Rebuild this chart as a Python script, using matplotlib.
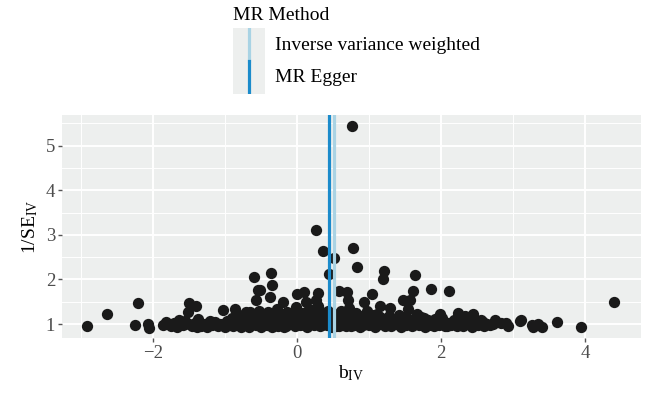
import numpy as np
import matplotlib
matplotlib.use("Agg")
import matplotlib.pyplot as plt
from matplotlib.lines import Line2D

plt.rcParams['font.family'] = ['Liberation Serif', 'DejaVu Serif']
plt.rcParams['mathtext.fontset'] = 'custom'
plt.rcParams['mathtext.rm'] = 'Liberation Serif'
plt.rcParams['mathtext.it'] = 'Liberation Serif:italic'

# estimates
# scattered SNPs away from the dense band
b_sparse = [0.76, 0.27, 0.36, 0.52, 0.78, 0.84, 0.45, 1.21, 1.20, 1.64, 1.86, 2.12, 4.40, 3.95, 3.61,
            -0.59, -0.54, -0.56, -0.36, -0.34, -0.37, -0.51, -0.19, 0.00, 0.10, 0.13, 0.29, 0.27, 0.58,
            0.70, 0.71, 1.04, 1.47, 1.57, 1.62, 0.94, 1.15, 1.29, 1.55, 1.99, 2.24, 1.73, 2.45,
            -2.91, -2.63, -2.21, -2.24, -2.07, -2.05, -1.86, -1.81, -1.63, -1.49, -1.40, -1.51, -1.03,
            -0.86, -0.65, 2.75, 2.91, 3.12, 3.26, 3.35, 3.28, 3.40, 2.77, 2.93, 3.10]
inv_se_sparse = [5.44, 3.11, 2.63, 2.47, 2.70, 2.28, 2.12, 2.18, 2.01, 2.10, 1.78, 1.74, 1.49, 0.93, 1.05,
                 2.05, 1.76, 1.54, 2.15, 1.88, 1.60, 1.77, 1.50, 1.67, 1.72, 1.49, 1.70, 1.54, 1.73,
                 1.71, 1.54, 1.67, 1.53, 1.53, 1.74, 1.50, 1.40, 1.35, 1.34, 1.22, 1.25, 1.15, 1.23,
                 0.95, 1.23, 1.47, 0.97, 1.01, 0.91, 0.97, 1.05, 1.10, 1.47, 1.40, 1.28, 1.31,
                 1.33, 1.28, 1.09, 1.02, 1.09, 0.98, 1.00, 0.94, 0.94, 1.04, 0.96, 1.07]

# dense band around 1/SE ~ 1
b_band = [-1.75, -1.70, -1.66, -1.58, -1.55, -1.45, -1.42, -1.37, -1.33, -1.28, -1.24, -1.18, -1.14, -1.10,
          -1.06, -1.00, -0.97, -0.94, -0.90, -0.88, -0.83, -0.80, -0.78, -0.74, -0.71, -0.68, -0.66, -0.62,
          -0.60, -0.57, -0.54, -0.52, -0.49, -0.47, -0.45, -0.42, -0.40, -0.38, -0.35, -0.33, -0.30, -0.28,
          -0.26, -0.23, -0.21, -0.18, -0.16, -0.13, -0.11, -0.08, -0.06, -0.03, -0.01, 0.02, 0.04, 0.07,
          0.09, 0.12, 0.14, 0.17, 0.19, 0.22, 0.24, 0.27, 0.29, 0.32, 0.34, 0.37, 0.39, 0.42, 0.44, 0.47,
          0.49, 0.52, 0.54, 0.57, 0.59, 0.62, 0.64, 0.67, 0.69, 0.72, 0.74, 0.77, 0.79, 0.82, 0.85, 0.88,
          0.91, 0.94, 0.97, 1.00, 1.03, 1.06, 1.09, 1.12, 1.15, 1.18, 1.22, 1.25, 1.28, 1.31, 1.35, 1.38,
          1.42, 1.45, 1.48, 1.52, 1.56, 1.60, 1.63, 1.67, 1.70, 1.74, 1.78, 1.82, 1.86, 1.90, 1.94, 1.98,
          2.02, 2.06, 2.10, 2.14, 2.18, 2.22, 2.27, 2.31, 2.35, 2.39, 2.43, 2.48, 2.52, 2.56, 2.60, 2.64,
          2.68,
          -1.62, -1.50, -1.38, -1.21, -1.02, -0.92, -0.85, -0.76, -0.70, -0.64, -0.58, -0.50, -0.44, -0.39,
          -0.34, -0.29, -0.25, -0.20, -0.15, -0.10, -0.05, 0.00, 0.05, 0.10, 0.15, 0.20, 0.25, 0.30, 0.35,
          0.40, 0.45, 0.50, 0.55, 0.60, 0.65, 0.70, 0.75, 0.80, 0.86, 0.92, 0.98, 1.04, 1.10, 1.16, 1.24,
          1.32, 1.40, 1.50, 1.58, 1.66, 1.76, 1.84, 1.92, 2.00, 2.08, 2.20, 2.33, 2.46, 2.58, 2.72, 2.84]
inv_se_band = [0.96, 1.02, 0.94, 0.98, 1.06, 0.95, 1.03, 1.12, 0.96, 1.00, 0.93, 0.97, 1.04, 0.95,
               1.01, 0.94, 1.06, 0.98, 1.13, 0.95, 1.02, 1.20, 0.94, 1.08, 0.99, 1.16, 0.93, 1.04,
               1.22, 0.97, 1.10, 1.30, 0.94, 1.03, 1.18, 0.98, 1.26, 1.08, 0.94, 1.15, 1.01, 1.33,
               0.96, 1.22, 1.06, 0.93, 1.12, 1.28, 0.99, 1.05, 1.18, 0.95, 1.38, 1.09, 0.97, 1.24,
               1.02, 1.14, 0.94, 1.33, 1.06, 1.20, 0.98, 1.11, 1.40, 0.95, 1.26, 1.04, 1.16, 0.97, 1.30, 1.08,
               0.94, 1.22, 1.02, 1.13, 0.96, 1.30, 1.07, 1.19, 0.95, 1.36, 1.04, 1.14, 0.98, 1.25, 1.08, 0.94,
               1.17, 1.02, 1.30, 0.97, 1.12, 1.04, 0.94, 1.22, 1.00, 1.10, 0.96, 1.05, 1.18, 0.95, 1.08, 1.00,
               1.20, 0.94, 1.06, 0.98, 1.12, 0.95, 1.03, 1.22, 0.97, 1.06, 0.94, 1.10, 1.00, 0.95, 1.06, 0.98,
               1.14, 0.95, 1.03, 0.97, 1.10, 0.95, 1.02, 0.96, 1.12, 0.99, 0.94, 1.05, 0.97, 1.08, 0.95, 1.01,
               0.97,
               1.01, 0.99, 0.94, 1.07, 0.99, 1.02, 1.10, 1.03, 1.26, 0.98, 1.12, 1.05, 1.00, 1.16,
               1.04, 0.97, 1.10, 1.02, 0.96, 1.20, 1.00, 1.12, 1.04, 0.98, 1.08, 1.00, 1.28, 1.05, 0.98,
               1.10, 1.02, 1.14, 0.96, 1.08, 1.00, 1.12, 0.96, 1.06, 1.15, 0.98, 1.08, 1.20, 1.02, 1.15, 0.99,
               1.12, 1.03, 1.15, 1.05, 0.99, 1.14, 0.97, 1.12, 1.03, 0.96, 1.05, 1.18, 1.00, 1.04, 0.99, 1.02]

methods = ["Inverse variance weighted", "MR Egger"]
method_b = [0.52, 0.45]
method_colors = ["#A9D3E4", "#1B8BCB"]

b_iv = np.array(b_sparse + b_band)
inv_se = np.array(inv_se_sparse + inv_se_band)

W, H = 646, 396
fig = plt.figure(figsize=(W / 100, H / 100), dpi=100)
ax = fig.add_axes([62 / W, 1 - 338 / H, (641 - 62) / W, (338 - 115) / H])

panel_bg = "#EDEFEE"
ax.set_facecolor(panel_bg)
for s in ax.spines.values():
    s.set_visible(False)

ax.scatter(b_iv, inv_se, s=66, color="#1a1a1a", linewidths=0, zorder=3)
for m, b, c in zip(methods, method_b, method_colors):
    ax.axvline(b, color=c, lw=2.3, zorder=4)

ax.set_xlim(-3.26, 4.78)
ax.set_ylim(0.686, 5.69)
ax.set_xticks([-2, 0, 2, 4])
ax.set_xticklabels(["\u22122", "0", "2", "4"])
ax.set_yticks([1, 2, 3, 4, 5])
ax.set_xticks([-3, -1, 1, 3], minor=True)
ax.set_yticks([1.5, 2.5, 3.5, 4.5, 5.5], minor=True)
ax.grid(which="major", color="white", lw=1.4, zorder=0)
ax.grid(which="minor", color="white", lw=0.7, zorder=0)
ax.set_axisbelow(True)
ax.tick_params(which="major", length=3, width=1, color="#555555", labelcolor="#4D4D4D",
               labelsize=13.5, pad=2)
ax.tick_params(which="minor", length=0)

ax.set_xlabel(r"b$_{\mathrm{IV}}$", fontsize=14, labelpad=1)
ax.set_ylabel(r"1/SE$_{\mathrm{IV}}$", fontsize=14, labelpad=4)

# legend on top
fig.text(233 / W, 1 - 15 / H, "MR Method", fontsize=14, va="center", ha="left")
kax = fig.add_axes([233 / W, 1 - 94 / H, 32 / W, 66 / H])
kax.set_facecolor(panel_bg)
kax.set_xlim(0, 1)
kax.set_ylim(0, 2)
kax.set_xticks([])
kax.set_yticks([])
for s in kax.spines.values():
    s.set_visible(False)
for i, c in enumerate(method_colors):
    kax.add_line(Line2D([0.5, 0.5], [2 - i - 1, 2 - i], color=c, lw=2.3))
    fig.text(275 / W, 1 - (45 + 32 * i) / H, methods[i], fontsize=14, va="center", ha="left")

fig.savefig("out.png", dpi=100)
